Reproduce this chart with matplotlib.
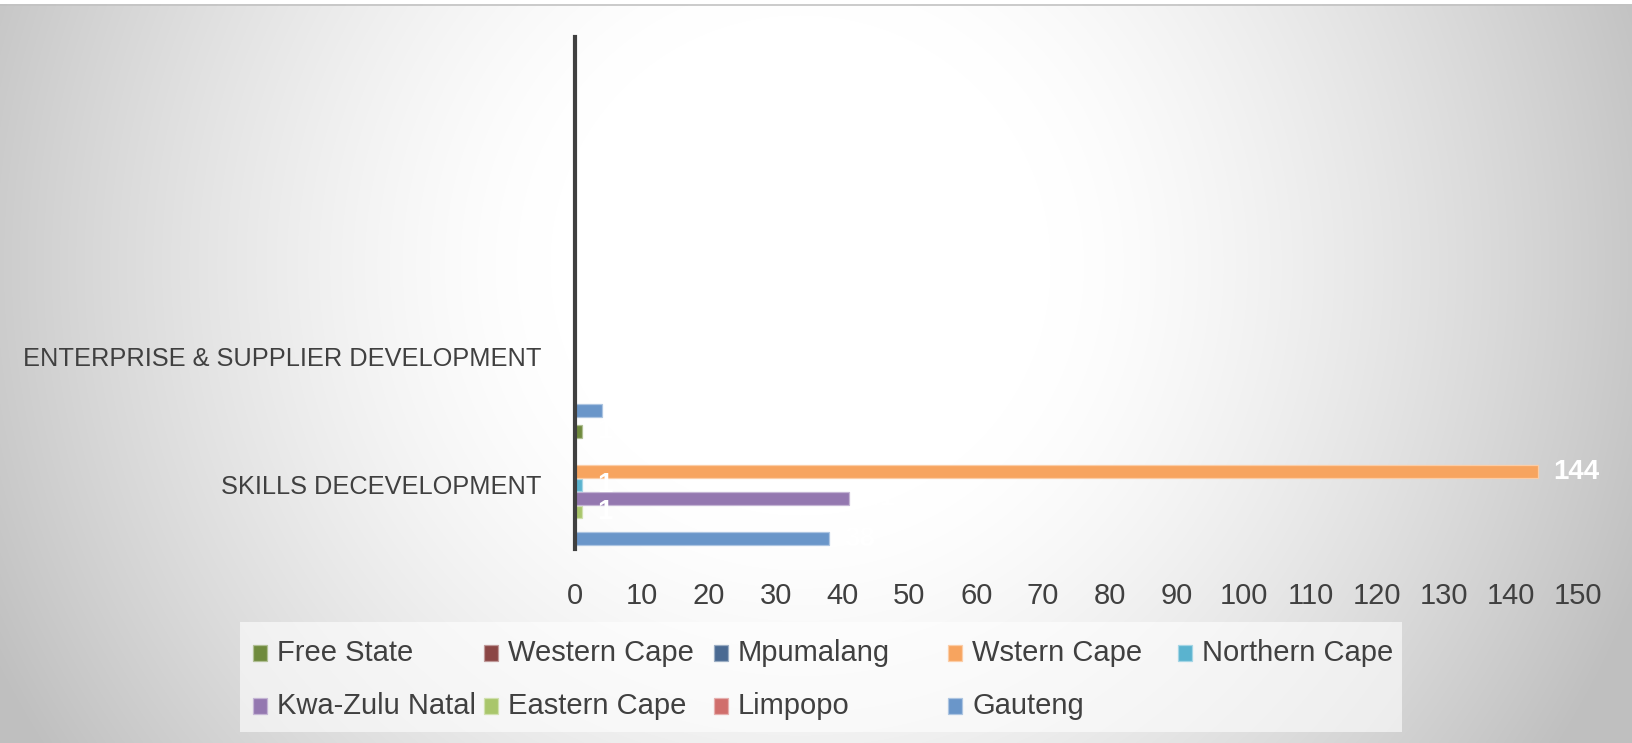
import numpy as np
import matplotlib
matplotlib.use("Agg")
import matplotlib.pyplot as plt
from matplotlib.patches import Rectangle

# ---------------- data ----------------
categories = ["SKILLS DECEVELOPMENT", "ENTERPRISE & SUPPLIER DEVELOPMENT"]
series_names = ["Gauteng", "Limpopo", "Eastern Cape", "Kwa-Zulu Natal", "Northern Cape",
                "Wstern Cape", "Mpumalang", "Western Cape", "Free State"]
gauteng = [38, 4]
limpopo = [0, 0]
eastern_cape = [1, 0]
kwazulu_natal = [41, 0]
northern_cape = [1, 0]
wstern_cape = [144, 0]
mpumalang = [0, 0]
western_cape = [0, 0]
free_state = [1, 0]
series_values = [gauteng, limpopo, eastern_cape, kwazulu_natal, northern_cape,
                 wstern_cape, mpumalang, western_cape, free_state]
x_ticks = list(range(0, 151, 10))
legend_order = ["Free State", "Western Cape", "Mpumalang", "Wstern Cape", "Northern Cape",
                "Kwa-Zulu Natal", "Eastern Cape", "Limpopo", "Gauteng"]

colors = {
    "Gauteng": "#6a96c9", "Limpopo": "#d06e6c", "Eastern Cape": "#a9c66b",
    "Kwa-Zulu Natal": "#9478b0", "Northern Cape": "#5ab3cf", "Wstern Cape": "#f7a45f",
    "Mpumalang": "#4a6a92", "Western Cape": "#8b4645", "Free State": "#6f8a3d",
}
edge_colors = {k: matplotlib.colors.to_hex(0.55 * np.array(matplotlib.colors.to_rgb(v)) + 0.45)
               for k, v in colors.items()}

FONT = "Liberation Sans"
plt.rcParams["font.family"] = [FONT, "DejaVu Sans"]

W, H = 1632, 743
fig = plt.figure(figsize=(W / 100, H / 100), dpi=100)

# ---------------- background radial gradient ----------------
bg = fig.add_axes([0, 0, 1, 1], zorder=0)
yy, xx = np.mgrid[0:H, 0:W]
r = np.hypot(xx - 800, yy - 265)
val = 1 - 0.25 * np.clip((r - 250) / 650, 0, 1) ** 1.4
img = np.dstack([val, val, val])
bg.imshow(img, extent=[0, W, H, 0], aspect="auto")
bg.set_xlim(0, W)
bg.set_ylim(H, 0)
bg.axis("off")
bg.add_patch(Rectangle((0, 0), W, 4, facecolor="white", edgecolor="none"))
bg.plot([0, W], [5, 5], color="#c2c2c2", lw=1.2)

# legend box
bg.add_patch(Rectangle((240, 622), 1162, 110, facecolor="white", alpha=0.6, edgecolor="none"))

# ---------------- chart ----------------
left_px, right_px, top_px, bottom_px = 575, 1578, 37, 549
ax = fig.add_axes([left_px / W, 1 - bottom_px / H, (right_px - left_px) / W,
                   (bottom_px - top_px) / H], zorder=2)
ax.patch.set_alpha(0)

n = len(series_names)
slot = 0.105
bar_h = 0.098
y_base = np.arange(len(categories))
for i, (name, vals) in enumerate(zip(series_names, series_values)):
    ypos = y_base + (i - (n - 1) / 2) * slot
    bars = ax.barh(ypos, vals, height=bar_h, color=colors[name],
                   edgecolor=edge_colors[name], linewidth=0.9, zorder=3)
    for b, v in zip(bars, vals):
        if v > 0:
            ax.annotate(str(v), (v, b.get_y() + b.get_height() / 2),
                        xytext=(11, 0), textcoords="offset points",
                        ha="left", va="center", color="white",
                        fontsize=20, fontweight="bold", zorder=4)

ax.set_xlim(0, 150)
ax.set_ylim(-0.5, 3.5)
ax.set_xticks(x_ticks)
ax.set_xticklabels([str(t) for t in x_ticks])
ax.set_yticks(y_base)
ax.set_yticklabels(categories)
ax.tick_params(axis="x", length=0, pad=24, labelsize=21, labelcolor="#404040")
ax.tick_params(axis="y", length=0, pad=24, labelsize=18.3, labelcolor="#404040")
for s in ["top", "right", "bottom"]:
    ax.spines[s].set_visible(False)
ax.spines["left"].set_color("#404040")
ax.spines["left"].set_linewidth(3)
ax.spines["left"].set_zorder(5)

# ---------------- legend (Excel style, fixed column pitch) ----------------
col_x = [253, 484, 714, 948, 1178]
row_y = [653, 706]
for k, name in enumerate(legend_order):
    r_i, c_i = divmod(k, 5)
    x0, yc = col_x[c_i], row_y[r_i]
    bg.add_patch(Rectangle((x0, yc - 8), 14, 16, facecolor=colors[name],
                           edgecolor=edge_colors[name], linewidth=0.9))
    bg.text(x0 + 24, yc, name, ha="left", va="center", fontsize=21,
            color="#404040", family=[FONT, "DejaVu Sans"])

fig.savefig("out.png", dpi=100)
